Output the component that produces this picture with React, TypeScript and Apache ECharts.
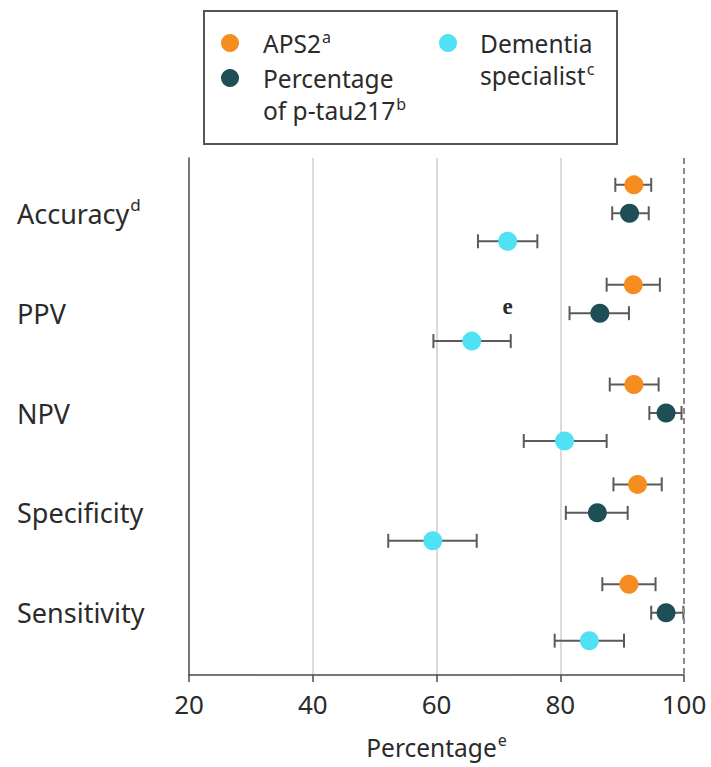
import React, { useEffect, useRef } from "react";
import * as echarts from "echarts";

const categories = ["Accuracy", "PPV", "NPV", "Specificity", "Sensitivity"];
const categorySup = ["d", "", "", "", ""];
const seriesNames = ["APS2", "Percentage of p-tau217", "Dementia specialist"];
const seriesColors = ["#F68D20", "#1F4F56", "#4FE2F4"];
const aps2Value = [91.9, 91.8, 91.9, 92.5, 91.1];
const aps2Low = [88.9, 87.5, 88.0, 88.6, 86.8];
const aps2High = [94.7, 96.1, 95.9, 96.4, 95.4];
const ptauValue = [91.2, 86.4, 97.1, 86.0, 97.1];
const ptauLow = [88.4, 81.5, 94.4, 80.9, 94.7];
const ptauHigh = [94.3, 91.1, 99.6, 90.9, 99.9];
const specValue = [71.5, 65.7, 80.7, 59.4, 84.7];
const specLow = [66.7, 59.5, 74.1, 52.2, 79.1];
const specHigh = [76.3, 72.0, 87.5, 66.5, 90.3];
const rowOffsets = [-0.285, 0, 0.28];
const xTicks = [20, 40, 60, 80, 100];
const annotations = [{ text: "e", x: 71.5, y: 0.93 }];

const FONT = "Noto Sans";
const TEXT = "#2b2b2b";

export default function App() {
  const ref = useRef<HTMLDivElement>(null);
  useEffect(() => {
    if (!ref.current) return;
    const chart = echarts.init(ref.current, undefined, { renderer: "svg" });
    const groups = [
      { v: aps2Value, lo: aps2Low, hi: aps2High },
      { v: ptauValue, lo: ptauLow, hi: ptauHigh },
      { v: specValue, lo: specLow, hi: specHigh },
    ];
    const series: any[] = [];
    groups.forEach((g, gi) => {
      series.push({
        type: "custom",
        name: seriesNames[gi] + " CI",
        silent: true,
        encode: { x: [0, 2], y: 1 },
        data: g.v.map((_, i) => [g.lo[i], i + rowOffsets[gi], g.hi[i]]),
        renderItem: (params: any, api: any) => {
          const lo = api.value(0);
          const y = api.value(1);
          const hi = api.value(2);
          const p1 = api.coord([lo, y]);
          const p2 = api.coord([hi, y]);
          const h = 7;
          const st = { stroke: "#5a5a5a", lineWidth: 2 };
          return {
            type: "group",
            children: [
              { type: "line", shape: { x1: p1[0], y1: p1[1], x2: p2[0], y2: p2[1] }, style: st },
              { type: "line", shape: { x1: p1[0], y1: p1[1] - h, x2: p1[0], y2: p1[1] + h }, style: st },
              { type: "line", shape: { x1: p2[0], y1: p2[1] - h, x2: p2[0], y2: p2[1] + h }, style: st },
            ],
          };
        },
        z: 2,
      });
    });
    groups.forEach((g, gi) => {
      const s: any = {
        type: "scatter",
        name: seriesNames[gi],
        symbol: "circle",
        symbolSize: 19,
        itemStyle: { color: seriesColors[gi], opacity: 1 },
        data: g.v.map((v, i) => [v, i + rowOffsets[gi]]),
        z: 5,
      };
      if (gi === 1) {
        s.markLine = {
          silent: true,
          symbol: ["none", "none"],
          label: { show: false },
          lineStyle: { type: [6, 4], color: "#8a8a8a", width: 2 },
          data: [{ xAxis: 100 }],
        };
      }
      if (gi === 2) {
        s.markPoint = {
          symbol: "circle",
          symbolSize: 1,
          itemStyle: { color: "transparent" },
          label: {
            show: true,
            formatter: (p: any) => p.name,
            fontFamily: "Liberation Serif",
            fontWeight: "bold",
            fontSize: 23,
            color: TEXT,
          },
          data: annotations.map((a) => ({ name: a.text, coord: [a.x, a.y] })),
        };
      }
      series.push(s);
    });

    const LF = 24.5;
    const legendText = (x: number, y: number, text: string) => ({
      type: "text",
      x,
      y,
      style: {
        text,
        fontFamily: FONT,
        fontSize: LF,
        lineHeight: 32,
        fill: TEXT,
        verticalAlign: "top",
        align: "left",
        rich: {
          n: { fontFamily: FONT, fontSize: LF, lineHeight: 32, fill: TEXT },
          s: { fontFamily: FONT, fontSize: 16, lineHeight: 32, fill: TEXT, verticalAlign: "top", padding: [2, 0, 0, 1] },
        },
      },
    });

    chart.setOption({
      animation: false,
      grid: { left: 189, right: 27, top: 158, bottom: 92, containLabel: false },
      xAxis: {
        type: "value",
        min: 20,
        max: 100,
        interval: 20,
        name: "{n|Percentage}{s|e}",
        nameLocation: "middle",
        nameGap: 57,
        nameTextStyle: {
          fontFamily: FONT,
          fontSize: LF,
          color: TEXT,
          rich: {
            n: { fontFamily: FONT, fontSize: LF, color: TEXT, lineHeight: 30 },
            s: { fontFamily: FONT, fontSize: 16, color: TEXT, verticalAlign: "top", lineHeight: 30, padding: [0, 0, 10, 1] },
          },
        },
        axisLine: { show: true, onZero: false, lineStyle: { color: "#4a4a4a", width: 1.5 } },
        axisTick: { show: true, length: 7, lineStyle: { color: "#4a4a4a", width: 1.5 } },
        axisLabel: {
          fontFamily: FONT,
          fontSize: 26,
          color: TEXT,
          margin: 16,
          customValues: xTicks,
        },
        splitLine: {
          show: true,
          lineStyle: { color: ["transparent", "#cfcfcf", "#cfcfcf", "#cfcfcf", "transparent"], width: 1.5 },
        },
      },
      yAxis: {
        type: "value",
        inverse: true,
        min: -0.554,
        max: 4.624,
        axisLine: { show: true, onZero: false, lineStyle: { color: "#4a4a4a", width: 1.5 } },
        axisTick: { show: false },
        splitLine: { show: false },
        axisLabel: {
          show: true,
          customValues: [0, 1, 2, 3, 4],
          align: "left",
          margin: 172,
          formatter: (v: number) => {
            const i = Math.round(v);
            const sup = categorySup[i];
            return "{n|" + categories[i] + "}" + (sup ? "{s|" + sup + "}" : "");
          },
          rich: {
            n: { fontFamily: FONT, fontSize: 27, color: TEXT, lineHeight: 34 },
            s: { fontFamily: FONT, fontSize: 17, color: TEXT, verticalAlign: "top", lineHeight: 34, padding: [0, 0, 12, 1] },
          },
        },
      },
      graphic: [
        {
          type: "rect",
          shape: { x: 204, y: 11, width: 413, height: 133 },
          style: { fill: "none", stroke: "#555", lineWidth: 2 },
        },
        { type: "circle", shape: { cx: 230, cy: 43, r: 9 }, style: { fill: seriesColors[0] } },
        { type: "circle", shape: { cx: 230, cy: 78, r: 9 }, style: { fill: seriesColors[1] } },
        { type: "circle", shape: { cx: 448, cy: 43, r: 9 }, style: { fill: seriesColors[2] } },
        legendText(263, 27, "{n|APS2}{s|a}"),
        legendText(263, 62, "{n|Percentage}\n{n|of p-tau217}{s|b}"),
        legendText(480, 27, "{n|Dementia}\n{n|specialist}{s|c}"),
      ],
      series,
    });
    return () => chart.dispose();
  }, []);
  return <div ref={ref} style={{ position: "absolute", left: 0, top: 0, width: 711, height: 767 }} />;
}
